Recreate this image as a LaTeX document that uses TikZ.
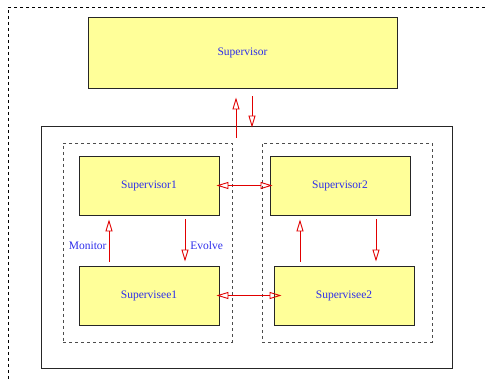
\documentclass[tikz,border=0pt]{standalone}
\usepackage{fontspec}
\setmainfont{Liberation Serif}
\usetikzlibrary{arrows.meta,positioning}

\definecolor{boxyellow}{RGB}{255,255,153}
\definecolor{nameblue}{RGB}{45,45,235}
\definecolor{linkred}{RGB}{225,0,0}

\begin{document}
\begin{tikzpicture}[
  x=1pt, y=-1pt,
  font=\fontsize{11.5}{13}\selectfont,
  >={Triangle[open,length=12pt,width=7pt]},
  role/.style={draw=black!85,line width=0.9pt,fill=boxyellow,text=nameblue,inner sep=0pt},
  group/.style={draw=black!70,line width=0.8pt,dash pattern=on 3pt off 3pt,inner sep=0pt},
  flow/.style={->,draw=linkred,line width=0.9pt},
  link/.style={<->,draw=linkred,line width=0.9pt},
  tag/.style={text=nameblue}
]
  \useasboundingbox (0,0) rectangle (485,379);

  % Frame (open to the right and bottom)
  \draw[line width=0.7pt,dash pattern=on 3pt off 3pt] (485,7) -- (8,7) -- (8,379);

  % Main nodes
  \node[role, minimum width=309pt, minimum height=71pt] (sup) at (242.5,52.5) {Supervisor};
  \node[draw=black!85, line width=0.9pt, minimum width=411pt, minimum height=242pt, inner sep=0pt] (sys) at (246.5,247) {};

  % Groups
  \node[group, minimum width=169pt, minimum height=199pt] (grp1) at (147.5,242.5) {};
  \node[group, minimum width=170pt, minimum height=199pt] (grp2) at (347,242.5) {};

  \node[role, minimum width=140pt, minimum height=59pt] (sor1) at (149,185.5) {Supervisor1};
  \node[role, minimum width=140pt, minimum height=59pt] (see1) at (149,295.5) {Supervisee1};
  \node[role, minimum width=140pt, minimum height=59pt] (sor2) at (340,185.5) {Supervisor2};
  \node[role, minimum width=140pt, minimum height=59pt] (see2) at (344,295.5) {Supervisee2};

  % --- Edges ---
  \draw[flow, shorten <=-12pt, shorten >=9pt] ([xshift=-6.5pt]sup.south |- sys.north) -- ([xshift=-6.5pt]sup.south);
  \draw[flow, shorten <=8pt, shorten >=-2pt] ([xshift=9.5pt]sup.south) -- ([xshift=9.5pt]sup.south |- sys.north);

  % Monitor / Evolve
  \draw[flow, shorten <=4pt, shorten >=4pt] ([xshift=-40pt]sor1.south |- see1.north) -- ([xshift=-40pt]sor1.south)
    node[tag, midway, left, inner sep=2pt, yshift=-5pt] {Monitor};
  \draw[flow, shorten <=4pt, shorten >=4pt] ([xshift=36pt]sor1.south) -- ([xshift=36pt]sor1.south |- see1.north)
    node[tag, midway, right, inner sep=5pt, yshift=-5pt] {Evolve};
  \draw[flow, shorten <=4pt, shorten >=4pt] ([xshift=-40pt]sor2.south |- see2.north) -- ([xshift=-40pt]sor2.south);
  \draw[flow, shorten <=4pt, shorten >=4pt] ([xshift=36pt]sor2.south) -- ([xshift=36pt]sor2.south |- see2.north);

  % Between groups
  \draw[link, shorten <=-3pt, shorten >=-3pt] (sor1.east) -- (sor2.west);
  \draw[link, shorten <=-3pt, shorten >=-8pt] (see1.east) -- (see2.west);
\end{tikzpicture}
\end{document}
